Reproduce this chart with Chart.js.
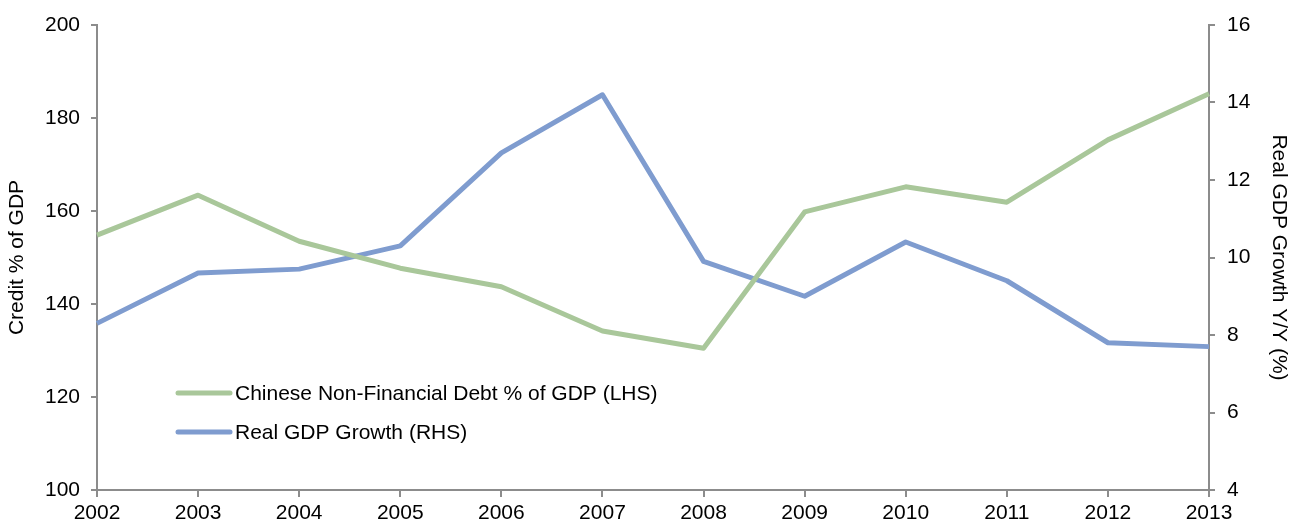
<!DOCTYPE html>
<html>
<head>
<meta charset="utf-8">
<script src="https://cdn.jsdelivr.net/npm/chart.js@4/dist/chart.umd.min.js"></script>
<style>
  html, body { margin: 0; padding: 0; background: #fff; }
  #wrap { width: 1294px; height: 525px; }
</style>
</head>
<body>
<div id="wrap"><canvas id="chart" width="1294" height="525"></canvas></div>
<script>
const years = ["2002", "2003", "2004", "2005", "2006", "2007", "2008", "2009", "2010", "2011", "2012", "2013"];
const debtPctGdp = [154.8, 163.4, 153.5, 147.7, 143.7, 134.2, 130.5, 159.8, 165.2, 161.9, 175.3, 185.2];
const realGdpGrowth = [8.3, 9.6, 9.7, 10.3, 12.7, 14.2, 9.9, 9.0, 10.4, 9.4, 7.8, 7.7];
const leftTicks = [100, 120, 140, 160, 180, 200];
const rightTicks = [4, 6, 8, 10, 12, 14, 16];

const axisGrey = "#8c8c8c";
const font = { family: "'Liberation Sans', Arial, sans-serif", size: 21 };

// legend drawn inside the plot area, lower left
const innerLegend = {
  id: "innerLegend",
  afterDatasetsDraw(chart) {
    const ctx = chart.ctx;
    const rows = [393, 432];
    ctx.save();
    ctx.font = "21px 'Liberation Sans', Arial, sans-serif";
    ctx.textBaseline = "middle";
    chart.data.datasets.forEach((ds, i) => {
      const y = rows[i];
      ctx.strokeStyle = ds.borderColor;
      ctx.lineWidth = 5;
      ctx.lineCap = "round";
      ctx.beginPath();
      ctx.moveTo(178, y);
      ctx.lineTo(230, y);
      ctx.stroke();
      ctx.fillStyle = "#000";
      ctx.fillText(ds.label, 235, y + 1);
    });
    ctx.restore();
  },
};

new Chart(document.getElementById("chart"), {
  type: "line",
  data: {
    labels: years,
    datasets: [
      {
        label: "Chinese Non-Financial Debt % of GDP (LHS)",
        data: debtPctGdp,
        yAxisID: "y",
        borderColor: "#a9c79a",
        borderWidth: 5,
        pointRadius: 0,
        tension: 0,
        borderJoinStyle: "round",
      },
      {
        label: "Real GDP Growth (RHS)",
        data: realGdpGrowth,
        yAxisID: "y1",
        borderColor: "#7f9ccf",
        borderWidth: 5,
        pointRadius: 0,
        tension: 0,
        borderJoinStyle: "round",
      },
    ],
  },
  options: {
    responsive: false,
    animation: false,
    layout: { padding: { top: 25, left: 0, right: 0, bottom: 0 } },
    plugins: { legend: { display: false }, tooltip: { enabled: false } },
    scales: {
      x: {
        offset: false,
        grid: { drawOnChartArea: false, color: axisGrey, tickLength: 7, lineWidth: 2 },
        border: { color: axisGrey, width: 2 },
        ticks: { color: "#000", font: font, padding: 4, maxRotation: 0, autoSkip: false },
        afterFit: (s) => { s.height = 35; },
      },
      y: {
        position: "left",
        min: 100,
        max: 200,
        afterBuildTicks: (s) => { s.ticks = leftTicks.map((v) => ({ value: v })); },
        grid: { drawOnChartArea: false, color: axisGrey, tickLength: 6, lineWidth: 2 },
        border: { color: axisGrey, width: 2 },
        ticks: { color: "#000", font: font, padding: 11 },
        title: { display: true, text: "Credit % of GDP", color: "#000", font: font, padding: { top: 5, bottom: 0 } },
        afterFit: (s) => { s.width = 97; },
      },
      y1: {
        position: "right",
        min: 4,
        max: 16,
        afterBuildTicks: (s) => { s.ticks = rightTicks.map((v) => ({ value: v })); },
        grid: { drawOnChartArea: false, color: axisGrey, tickLength: 6, lineWidth: 2 },
        border: { color: axisGrey, width: 2 },
        ticks: { color: "#000", font: font, padding: 12 },
        title: { display: true, text: "Real GDP Growth Y/Y (%)", color: "#000", font: font, padding: { top: 3, bottom: 0 } },
        afterFit: (s) => { s.width = 85; },
      },
    },
  },
  plugins: [innerLegend],
});
</script>
</body>
</html>
